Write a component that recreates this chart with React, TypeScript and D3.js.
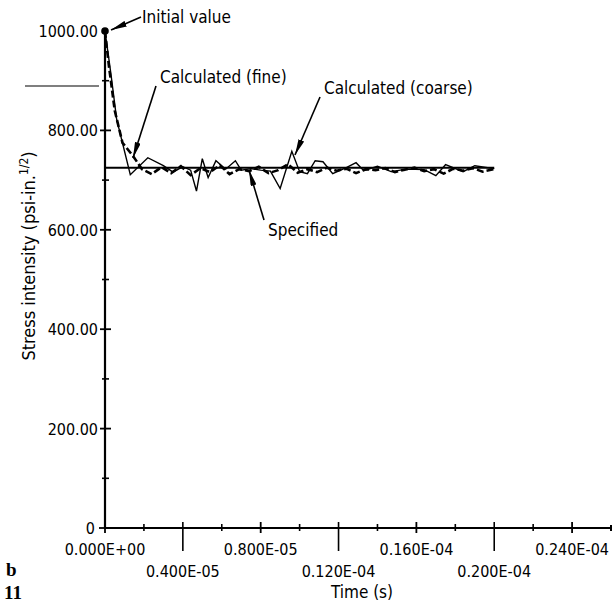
import React from "react";
import * as d3 from "d3";

// ---- data (time in seconds, stress intensity in psi-in^1/2) ----
const coarseT = [0, 0.3e-6, 0.6e-6, 1.3e-6, 2.2e-6, 3.0e-6, 3.5e-6, 4.0e-6, 4.4e-6, 4.7e-6, 5.0e-6, 5.3e-6, 5.7e-6, 6.2e-6, 6.7e-6, 7.0e-6, 7.5e-6, 8.0e-6, 8.5e-6, 9.0e-6, 9.6e-6, 10.0e-6, 10.4e-6, 10.8e-6, 11.2e-6, 11.7e-6, 12.4e-6, 12.9e-6, 13.3e-6, 14.0e-6, 14.7e-6, 15.5e-6, 16.4e-6, 17.0e-6, 17.5e-6, 18.4e-6, 19.0e-6, 20.0e-6];
const coarseV = [1000, 915, 822, 711, 745, 729, 716, 727, 720, 678, 743, 705, 739, 722, 739, 720, 723, 720, 718, 683, 758, 717, 713, 739, 737, 713, 725, 735, 719, 728, 717, 722, 721, 709, 731, 717, 729, 723];

const fineT = [0, 0.2e-6, 0.5e-6, 0.9e-6, 1.45e-6, 1.9e-6, 2.4e-6, 2.9e-6, 3.4e-6, 3.9e-6, 4.4e-6, 4.9e-6, 5.4e-6, 5.9e-6, 6.4e-6, 6.9e-6, 7.4e-6, 7.9e-6, 8.4e-6, 8.9e-6, 9.4e-6, 9.9e-6, 10.4e-6, 10.9e-6, 11.4e-6, 11.9e-6, 12.4e-6, 12.9e-6, 13.4e-6, 13.9e-6, 14.4e-6, 14.9e-6, 15.4e-6, 15.9e-6, 16.4e-6, 16.9e-6, 17.4e-6, 17.9e-6, 18.4e-6, 18.9e-6, 19.4e-6, 20.0e-6];
const fineV = [1000, 930, 840, 775, 748, 722, 712, 726, 714, 728, 710, 724, 716, 730, 712, 722, 718, 727, 714, 720, 732, 715, 722, 716, 725, 719, 723, 714, 722, 720, 724, 716, 721, 725, 718, 722, 713, 723, 719, 724, 717, 722];

const specifiedT = [0, 20e-6];
const specifiedV = [725, 725];

const xMajorUpper = [0, 0.8e-5, 1.6e-5, 2.4e-5];
const xMajorUpperLabels = ["0.000E+00", "0.800E-05", "0.160E-04", "0.240E-04"];
const xMajorLower = [0.4e-5, 1.2e-5, 2.0e-5];
const xMajorLowerLabels = ["0.400E-05", "0.120E-04", "0.200E-04"];
const xMinor = [0.2e-5, 0.6e-5, 1.0e-5, 1.4e-5, 1.8e-5, 2.2e-5];
const yMajor = [0, 200, 400, 600, 800, 1000];
const yMajorLabels = ["0", "200.00", "400.00", "600.00", "800.00", "1000.00"];
const yMinor = [100, 300, 500, 700, 900];

const FONT = "'DejaVu Sans Condensed', 'Liberation Sans Narrow', 'DejaVu Sans', sans-serif";

export default function App() {
  const x = d3.scaleLinear().domain([0, 2.6e-5]).range([105, 611]);
  const y = d3.scaleLinear().domain([0, 1000]).range([528, 31]);

  const toPts = (ts: number[], vs: number[]) => ts.map((t, i) => [t, vs[i]] as [number, number]);
  const line = d3.line<[number, number]>().x((d) => x(d[0])).y((d) => y(d[1]));

  const coarse = line(toPts(coarseT, coarseV)) || "";
  const fine = line(toPts(fineT, fineV)) || "";
  const spec = line(toPts(specifiedT, specifiedV)) || "";

  const axisY = y(0);
  const axisX = x(0);

  return (
    <svg width={615} height={608} style={{ position: "absolute", left: 0, top: 0, background: "#fff" }}>
      <defs>
        <marker id="ah" viewBox="0 0 16 6" refX="16" refY="3" markerWidth="16" markerHeight="6" markerUnits="userSpaceOnUse" orient="auto">
          <path d="M0,0 L16,3 L0,6 Z" fill="#000" />
        </marker>
      </defs>
      <rect x={0} y={0} width={615} height={608} fill="#fff" />

      {/* axes */}
      <line x1={axisX} y1={axisY} x2={611} y2={axisY} stroke="#000" strokeWidth={2.2} />
      <line x1={axisX} y1={axisY} x2={axisX} y2={y(1000)} stroke="#000" strokeWidth={2.2} />

      {/* x ticks */}
      {xMajorUpper.map((t, i) => (
        <g key={"xu" + i}>
          <line x1={x(t)} x2={x(t)} y1={axisY - 6} y2={axisY + 5} stroke="#000" strokeWidth={1.8} />
          <text x={x(t)} y={555} textAnchor="middle" fontFamily={FONT} fontSize={16}>{xMajorUpperLabels[i]}</text>
        </g>
      ))}
      {xMajorLower.map((t, i) => (
        <g key={"xl" + i}>
          <line x1={x(t)} x2={x(t)} y1={axisY - 6} y2={551} stroke="#000" strokeWidth={1.6} />
          <text x={x(t)} y={577} textAnchor="middle" fontFamily={FONT} fontSize={16}>{xMajorLowerLabels[i]}</text>
        </g>
      ))}
      {xMinor.map((t, i) => (
        <line key={"xm" + i} x1={x(t)} x2={x(t)} y1={axisY - 4} y2={axisY + 3} stroke="#000" strokeWidth={1.6} />
      ))}
      <line x1={611} x2={611} y1={axisY - 3} y2={axisY + 3} stroke="#000" strokeWidth={2} />

      {/* y ticks */}
      {yMajor.map((v, i) => (
        <g key={"ym" + i}>
          {v !== 0 && v !== 1000 && (
            <line x1={axisX - 5} x2={axisX + 6} y1={y(v)} y2={y(v)} stroke="#000" strokeWidth={1.8} />
          )}
          <text x={v === 0 ? 95 : 98} y={y(v) + 6} textAnchor="end" fontFamily={FONT} fontSize={16}>{yMajorLabels[i]}</text>
        </g>
      ))}
      {yMinor.map((v, i) => (
        <line key={"yn" + i} x1={axisX - 3} x2={axisX + 4} y1={y(v)} y2={y(v)} stroke="#000" strokeWidth={1.6} />
      ))}
      <line x1={axisX - 6} x2={axisX + 4} y1={axisY} y2={axisY} stroke="#000" strokeWidth={1.8} />

      {/* stray horizontal line */}
      <line x1={25} x2={99} y1={86} y2={86} stroke="#000" strokeWidth={1.2} />

      {/* series */}
      <path d={spec} fill="none" stroke="#000" strokeWidth={2} />
      <path d={fine} fill="none" stroke="#000" strokeWidth={2.6} strokeDasharray="7,3" />
      <path d={coarse} fill="none" stroke="#000" strokeWidth={1.4} />
      <circle cx={x(0)} cy={y(1000)} r={3.8} fill="#000" />

      {/* annotations */}
      <text x={142} y={23} fontFamily={FONT} fontSize={17}>Initial value</text>
      <line x1={141} y1={17} x2={111} y2={30} stroke="#000" strokeWidth={1.6} markerEnd="url(#ah)" />

      <text x={160} y={83} fontFamily={FONT} fontSize={17}>Calculated (fine)</text>
      <line x1={156} y1={86} x2={133} y2={158} stroke="#000" strokeWidth={1.6} markerEnd="url(#ah)" />

      <text x={324} y={94} fontFamily={FONT} fontSize={17}>Calculated (coarse)</text>
      <line x1={320} y1={97} x2={295} y2={155} stroke="#000" strokeWidth={1.6} markerEnd="url(#ah)" />

      <text x={268} y={236} fontFamily={FONT} fontSize={17}>Specified</text>
      <line x1={264} y1={220} x2={249} y2={170} stroke="#000" strokeWidth={1.6} markerEnd="url(#ah)" />

      {/* axis titles */}
      <text x={362} y={598} textAnchor="middle" fontFamily={FONT} fontSize={17}>Time (s)</text>
      <text transform="translate(35,256) rotate(-90)" textAnchor="middle" fontFamily={FONT} fontSize={18}>
        Stress intensity (psi-in.<tspan dy={-7} fontSize={12}>1/2</tspan><tspan dy={7}>)</tspan>
      </text>

      {/* figure labels */}
      <text x={6} y={576} fontFamily="'Liberation Serif', serif" fontWeight="bold" fontSize={19}>b</text>
      <text x={4} y={599} fontFamily="'Liberation Serif', serif" fontWeight="bold" fontSize={19}>11</text>
    </svg>
  );
}
